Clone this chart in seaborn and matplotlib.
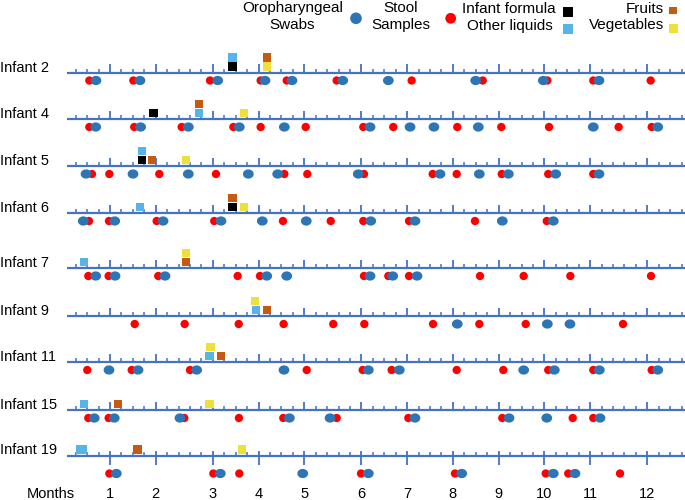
import numpy as np
import pandas as pd
import seaborn as sns
import matplotlib.pyplot as plt
from matplotlib.path import Path

# Timeline of sampling and food introduction per infant (x in weeks of life)
infants = ['Infant 2', 'Infant 4', 'Infant 5', 'Infant 6', 'Infant 7',
           'Infant 9', 'Infant 11', 'Infant 15', 'Infant 19']

swab_weeks = [
    [2.77, 6.62, 13.42, 17.56, 19.92, 24.36, 28.35, 35.99, 41.91, 46.78],
    [2.75, 6.68, 10.85, 15.31, 19.25, 26.75, 30.25, 32.34, 36.22, 46.28, 51.92],
    [1.90, 6.01, 10.85, 16.10, 18.67, 25.72, 32.87, 36.31, 38.85, 42.99, 46.78],
    [1.66, 4.41, 8.64, 13.71, 17.32, 21.17, 26.81, 30.68, 38.32, 42.78],
    [2.75, 4.44, 8.81, 17.71, 19.46, 26.75, 28.73, 30.86],
    [34.38, 42.26, 44.24],
    [3.91, 6.45, 11.58, 19.22, 26.60, 29.31, 40.19, 42.87, 46.81, 51.92],
    [2.62, 4.37, 10.12, 19.69, 23.25, 30.68, 38.91, 42.21, 46.87],
    [4.55, 13.65, 20.86, 26.60, 34.77, 42.78, 44.68],
]
stool_weeks = [
    [2.19, 6.04, 12.75, 17.18, 19.46, 23.83, 30.39, 36.61, 42.26, 46.28, 51.30],
    [2.19, 6.12, 10.27, 14.79, 17.18, 21.12, 26.16, 28.78, 34.38, 38.23, 42.41, 48.50, 51.39],
    [2.42, 3.94, 8.31, 13.27, 19.25, 21.26, 26.22, 32.23, 34.33, 38.27, 42.34, 46.28],
    [2.16, 3.91, 8.08, 13.12, 19.13, 23.31, 26.16, 30.16, 35.93, 42.21],
    [2.10, 3.88, 8.22, 15.17, 17.12, 26.22, 28.35, 30.16, 36.37, 40.19, 44.27, 51.33],
    [6.16, 10.53, 15.26, 19.19, 23.53, 26.25, 32.26, 36.31, 40.37, 48.88],
    [2.01, 5.90, 11.00, 21.21, 26.11, 28.64, 34.33, 38.41, 42.34, 46.28, 51.39],
    [2.10, 3.88, 10.50, 15.28, 19.16, 23.83, 30.10, 38.32, 44.48, 46.28],
    [3.94, 13.04, 15.31, 25.96, 34.18, 42.12, 44.09, 48.62],
]

formula_weeks = [[14.73], [7.79], [6.77], [14.73], [], [], [], [], []]
liquids_weeks = [[14.73], [11.81], [6.77], [6.62], [1.75], [16.75], [12.69], [1.75], [1.35, 1.65]]
fruits_weeks = [[17.76], [11.81], [7.70], [14.73], [10.65], [17.71], [13.71], [4.67], [6.39]]
veg_weeks = [[17.76], [15.75], [10.62], [15.75], [10.65], [16.68], [12.80], [12.69], [15.55]]

# food squares sitting on top of another one introduced the same week
raised = [('Infant 2', 'Other liquids'), ('Infant 2', 'Fruits'), ('Infant 4', 'Fruits'),
          ('Infant 5', 'Other liquids'), ('Infant 6', 'Fruits'), ('Infant 7', 'Vegetables'),
          ('Infant 9', 'Vegetables'), ('Infant 11', 'Vegetables')]

month_labels = ['1', '2', '3', '4', '5', '6', '7', '8', '9', '10', '11', '12']
month_weeks = [4, 8, 13, 17, 21, 26, 30, 34, 38, 42, 46, 51]

# layout (pixel rows of each timeline)
row_y = [72.5, 119, 166, 213, 268, 316, 362, 410, 455.5]
line_col = '#4472C4'
colors = {'Oropharyngeal Swabs': '#2E75B6', 'Stool Samples': '#FF0000',
          'Infant formula': '#000000', 'Other liquids': '#56B4E9',
          'Fruits': '#C55A11', 'Vegetables': '#EEDF3A'}

plt.rcParams['font.family'] = ['Liberation Sans', 'DejaVu Sans']

fig = plt.figure(figsize=(6.85, 5), dpi=100)
ax = fig.add_axes([0, 0, 1, 1])
W0, PXW = 64.3, 11.43


def px(x):
    return (x - W0) / PXW


ax.set_xlim(px(0), px(685))
ax.set_ylim(500, 0)
ax.axis('off')

# build tables for the marks
dot_rows, sq_rows = [], []
for i, name in enumerate(infants):
    last = i == len(infants) - 1
    dy = 18 if last else 8
    for w in stool_weeks[i]:
        dot_rows.append((name, w, row_y[i] + dy, 'Stool Samples'))
    for w in swab_weeks[i]:
        dot_rows.append((name, w, row_y[i] + dy, 'Oropharyngeal Swabs'))
    for food, lst in [('Infant formula', formula_weeks), ('Other liquids', liquids_weeks),
                      ('Fruits', fruits_weeks), ('Vegetables', veg_weeks)]:
        for w in lst[i]:
            up = 15 if (name, food) in raised else 6
            sq_rows.append((name, w, row_y[i] - up, food))

dots = pd.DataFrame(dot_rows, columns=['infant', 'week', 'y', 'kind'])
squares = pd.DataFrame(sq_rows, columns=['infant', 'week', 'y', 'kind'])

# axis lines and ticks
weeks_all = np.arange(0, 55)
for i, y in enumerate(row_y):
    last = i == len(row_y) - 1
    ax.hlines(y, 0.2, px(690), color=line_col, lw=1.6, zorder=1)
    minor = [w for w in weeks_all if w not in month_weeks and w >= 1]
    ax.vlines(minor, y - 3.8, y, color=line_col, lw=1.1, zorder=1)
    if last:
        ax.vlines(month_weeks, y - 5, y + 9.5, color=line_col, lw=1.3, zorder=1)
    else:
        ax.vlines(month_weeks, y - 8.5, y + 1, color=line_col, lw=1.3, zorder=1)
    ax.text(px(0.5), y - 5, infants[i], ha='left', va='center', fontsize=10.5)

t = np.linspace(0, 2 * np.pi, 40)
ellipse = Path(np.c_[np.cos(t), 0.86 * np.sin(t)])

sns.scatterplot(data=dots[dots.kind == 'Stool Samples'], x='week', y='y', color=colors['Stool Samples'],
                s=36, edgecolor='none', legend=False, ax=ax, zorder=3)
sns.scatterplot(data=dots[dots.kind == 'Oropharyngeal Swabs'], x='week', y='y',
                color=colors['Oropharyngeal Swabs'], marker=ellipse, s=60, edgecolor='none',
                legend=False, ax=ax, zorder=4)
sns.scatterplot(data=squares, x='week', y='y', hue='kind', palette=colors, marker='s', s=36,
                edgecolor='none', legend=False, ax=ax, zorder=5)

# month labels
for w, lab in zip(month_weeks, month_labels):
    ax.text(w, 494, lab, ha='center', va='center', fontsize=10.5)
ax.text(px(51), 494, 'Months', ha='center', va='center', fontsize=10.5)

# legend
fs = 11
ax.text(px(292.5), 8, 'Oropharyngeal', ha='center', va='center', fontsize=fs)
ax.text(px(292.5), 25, 'Swabs', ha='center', va='center', fontsize=fs)
ax.text(px(401), 8, 'Stool', ha='center', va='center', fontsize=fs)
ax.text(px(401), 25, 'Samples', ha='center', va='center', fontsize=fs)
ax.text(px(556), 9, 'Infant formula', ha='right', va='center', fontsize=fs)
ax.text(px(553), 26, 'Other liquids', ha='right', va='center', fontsize=fs)
ax.text(px(664), 9, 'Fruits', ha='right', va='center', fontsize=fs)
ax.text(px(664), 25, 'Vegetables', ha='right', va='center', fontsize=fs)
ax.scatter(px(356), 18.3, s=70, color=colors['Oropharyngeal Swabs'], edgecolor='none')
ax.scatter(px(450.7), 18.3, s=60, color=colors['Stool Samples'], edgecolor='none')
ax.scatter(px(568.3), 11.7, s=48, marker='s', color=colors['Infant formula'], edgecolor='none')
ax.scatter(px(568.3), 29.3, s=48, marker='s', color=colors['Other liquids'], edgecolor='none')
ax.scatter(px(673.3), 10.5, s=30, marker='s', color=colors['Fruits'], edgecolor='none')
ax.scatter(px(673.3), 28.3, s=40, marker='s', color=colors['Vegetables'], edgecolor='none')

fig.savefig('out.png', dpi=100)
